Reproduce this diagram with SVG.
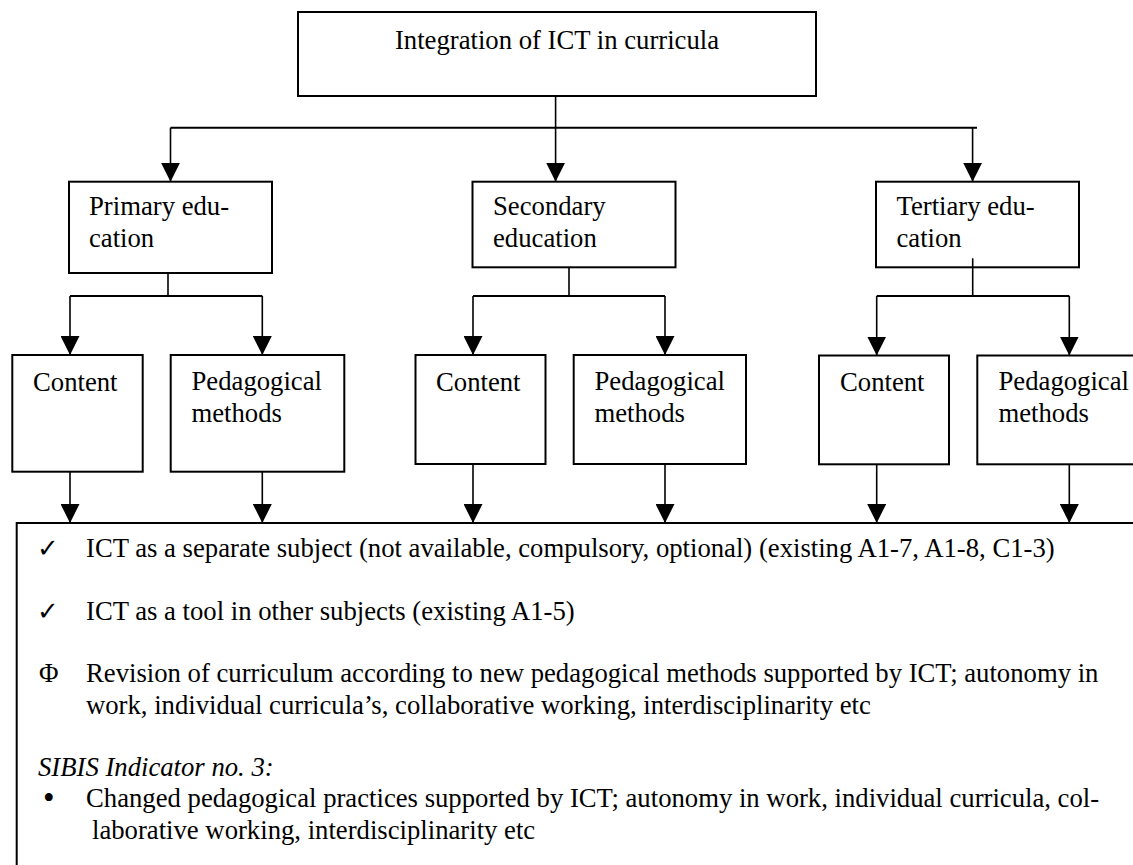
<svg xmlns="http://www.w3.org/2000/svg" width="1133" height="865" viewBox="0 0 1133 865">
  <style>
    .box { fill: #fff; stroke: #000; stroke-width: 2; }
    .wire { fill: none; stroke: #000; stroke-width: 1.6; }
    .bar { fill: none; stroke: #000; stroke-width: 2; }
    .serif { font-family: "Liberation Serif", "Times New Roman", serif; font-size: 26.7px; fill: #000; }
    .it { font-style: italic; }
    .tick { font-family: "DejaVu Sans", sans-serif; font-size: 26px; }
  </style>
  <defs>
    <marker id="arrow" markerUnits="userSpaceOnUse" markerWidth="19" markerHeight="19" refX="19" refY="9.5" orient="auto">
      <path d="M0,0 L19,9.5 L0,19 Z" fill="#000"/>
    </marker>
  </defs>

  <rect width="1133" height="865" fill="#fff"/>

  <g class="serif">
  <!-- root -->
  <g id="root">
    <rect class="box" x="298" y="12" width="518" height="84"/>
    <text x="557" y="49" text-anchor="middle">Integration of ICT in curricula</text>
  </g>

  <!-- education levels -->
  <g id="primary">
    <rect class="box" x="69" y="181.7" width="203" height="91.3"/>
    <text x="89" y="215">Primary edu-</text>
    <text x="89" y="247">cation</text>
  </g>
  <g id="secondary">
    <rect class="box" x="472.5" y="181.7" width="203" height="85.6"/>
    <text x="493" y="215">Secondary</text>
    <text x="493" y="247">education</text>
  </g>
  <g id="tertiary">
    <rect class="box" x="876" y="181.7" width="203" height="85.6"/>
    <text x="896.5" y="215">Tertiary edu-</text>
    <text x="896.5" y="247">cation</text>
  </g>

  <!-- content / methods per level -->
  <g id="content-primary">
    <rect class="box" x="12.3" y="355" width="130.4" height="116.7"/>
    <text x="33" y="390.5">Content</text>
  </g>
  <g id="methods-primary">
    <rect class="box" x="170.7" y="355" width="173.6" height="116.7"/>
    <text x="191.5" y="390">Pedagogical</text>
    <text x="191.5" y="421.5">methods</text>
  </g>
  <g id="content-secondary">
    <rect class="box" x="415.5" y="355" width="130" height="109"/>
    <text x="436" y="390.5">Content</text>
  </g>
  <g id="methods-secondary">
    <rect class="box" x="573.7" y="355" width="172.3" height="109"/>
    <text x="594.5" y="390">Pedagogical</text>
    <text x="594.5" y="421.5">methods</text>
  </g>
  <g id="content-tertiary">
    <rect class="box" x="819" y="355.5" width="130" height="108.8"/>
    <text x="840" y="390.5">Content</text>
  </g>
  <g id="methods-tertiary">
    <rect class="box" x="977.3" y="355.5" width="200" height="108.8"/>
    <text x="998.5" y="390">Pedagogical</text>
    <text x="998.5" y="421.5">methods</text>
  </g>

  <!-- indicator panel -->
  <g id="indicators">
    <rect class="box" x="16.7" y="523" width="1200" height="400"/>
    <text class="tick" x="37" y="557">✓</text>
    <text x="86" y="557">ICT as a separate subject (not available, compulsory, optional) (existing A1-7, A1-8, C1-3)</text>
    <text class="tick" x="37" y="619.5">✓</text>
    <text x="86" y="619.5">ICT as a tool in other subjects (existing A1-5)</text>
    <text x="39" y="682">Φ</text>
    <text x="86" y="682">Revision of curriculum according to new pedagogical methods supported by ICT; autonomy in</text>
    <text x="86" y="713.5">work, individual curricula’s, collaborative working, interdisciplinarity etc</text>
    <text class="it" x="38" y="775.5">SIBIS Indicator no. 3:</text>
    <text x="43" y="809" font-size="33">•</text>
    <text x="86" y="807">Changed pedagogical practices supported by ICT; autonomy in work, individual curricula, col-</text>
    <text x="92" y="838.5">laborative working, interdisciplinarity etc</text>
  </g>
  </g>

  <!-- connectors -->
  <g id="connectors">
    <!-- root to levels -->
    <path class="wire" d="M555.6,96 V181.7" marker-end="url(#arrow)"/>
    <path class="bar" d="M170.5,127.7 H977"/>
    <path class="wire" d="M170.5,127.7 V181.7" marker-end="url(#arrow)"/>
    <path class="wire" d="M972.6,127.7 V181.7" marker-end="url(#arrow)"/>

    <!-- primary split -->
    <path class="wire" d="M168,273 V296"/>
    <path class="bar" d="M70,296 H262.3"/>
    <path class="wire" d="M70,296 V355" marker-end="url(#arrow)"/>
    <path class="wire" d="M262.3,296 V355" marker-end="url(#arrow)"/>

    <!-- secondary split -->
    <path class="wire" d="M569,267.3 V296"/>
    <path class="bar" d="M473,296 H665"/>
    <path class="wire" d="M473,296 V355" marker-end="url(#arrow)"/>
    <path class="wire" d="M665,296 V355" marker-end="url(#arrow)"/>

    <!-- tertiary split -->
    <path class="wire" d="M972.7,258.3 V296"/>
    <path class="bar" d="M876.7,296 H1069.3"/>
    <path class="wire" d="M876.7,296 V355.5" marker-end="url(#arrow)"/>
    <path class="wire" d="M1069.3,296 V355.5" marker-end="url(#arrow)"/>

    <!-- into indicator panel -->
    <path class="wire" d="M70,471.7 V523" marker-end="url(#arrow)"/>
    <path class="wire" d="M262.3,471.7 V523" marker-end="url(#arrow)"/>
    <path class="wire" d="M473,464 V523" marker-end="url(#arrow)"/>
    <path class="wire" d="M665,464 V523" marker-end="url(#arrow)"/>
    <path class="wire" d="M876.7,464.3 V523" marker-end="url(#arrow)"/>
    <path class="wire" d="M1069.3,464.3 V523" marker-end="url(#arrow)"/>
  </g>
</svg>
